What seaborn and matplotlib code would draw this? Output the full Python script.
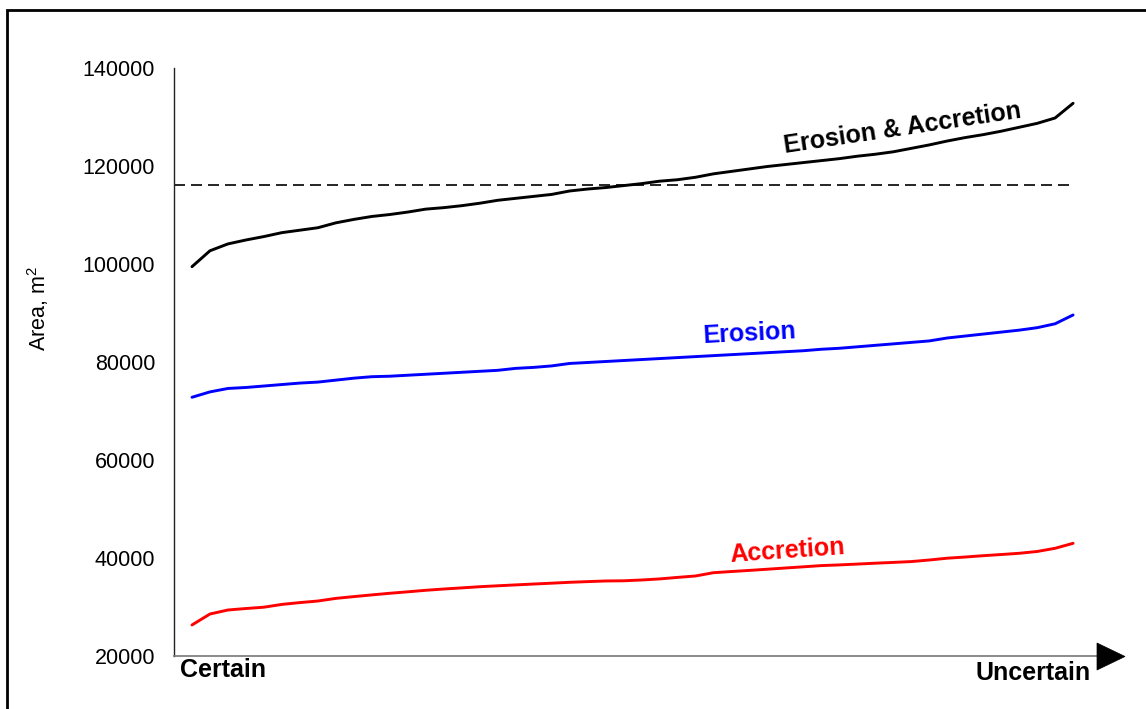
import numpy as np
import pandas as pd
import matplotlib
matplotlib.use("Agg")
import matplotlib.pyplot as plt
from matplotlib.patches import Polygon, Rectangle
import seaborn as sns

# Realisations ranked from most certain to least certain
rank = list(range(50))

erosion_accretion = [
    99450, 102700, 104100, 104900, 105600, 106400, 106900, 107400, 108400, 109100,
    109700, 110100, 110600, 111200, 111500, 111900, 112400, 113000, 113400, 113800,
    114200, 114900, 115300, 115600, 116000, 116400, 116900, 117200, 117700, 118400,
    118900, 119400, 119900, 120300, 120700, 121100, 121500, 122000, 122400, 122900,
    123600, 124300, 125100, 125800, 126400, 127100, 127900, 128700, 129800, 132800,
]
erosion = [
    72800, 73900, 74600, 74800, 75100, 75400, 75700, 75900, 76300, 76700,
    77000, 77100, 77300, 77500, 77700, 77900, 78100, 78300, 78700, 78900,
    79200, 79700, 79900, 80100, 80300, 80500, 80700, 80900, 81100, 81300,
    81500, 81700, 81900, 82100, 82300, 82600, 82800, 83100, 83400, 83700,
    84000, 84300, 84900, 85300, 85700, 86100, 86500, 87000, 87800, 89600,
]
accretion = [
    26330, 28570, 29390, 29690, 29960, 30530, 30900, 31220, 31760, 32120,
    32470, 32800, 33100, 33410, 33670, 33900, 34140, 34330, 34510, 34690,
    34860, 35040, 35180, 35310, 35350, 35510, 35730, 36040, 36330, 37000,
    37240, 37470, 37710, 37960, 38200, 38450, 38590, 38760, 38940, 39100,
    39270, 39590, 39960, 40200, 40470, 40710, 40960, 41330, 41980, 43000,
]
reference_area = 116100

series_names = ["Erosion & Accretion", "Erosion", "Accretion"]
series_colors = ["#000000", "#0000FF", "#FF0000"]
y_ticks = [20000, 40000, 60000, 80000, 100000, 120000, 140000]

df = pd.DataFrame({
    "rank": rank * 3,
    "area": erosion_accretion + erosion + accretion,
    "series": np.repeat(series_names, len(rank)),
})

sns.set_style("white")
plt.rcParams["font.family"] = ["Liberation Sans", "DejaVu Sans"]
plt.rcParams["mathtext.fontset"] = "custom"
plt.rcParams["mathtext.rm"] = "Liberation Sans"
plt.rcParams["mathtext.it"] = "Liberation Sans:italic"
plt.rcParams["text.color"] = "black"
plt.rcParams["axes.labelcolor"] = "black"

W, H = 1146, 709
fig = plt.figure(figsize=(W / 100, H / 100), dpi=100)
ax = fig.add_axes([174 / W, 1 - 656 / H, (1097 - 174) / W, (656 - 68) / H])

sns.lineplot(data=df, x="rank", y="area", hue="series", hue_order=series_names,
             palette=series_colors, linewidth=2.1, legend=False, ax=ax)

x_left, x_right = -1.0, 50.33
ax.plot([x_left, rank[-1]], [reference_area, reference_area], color="black",
        lw=1.2, ls=(0, (6.6, 3.6)))

ax.set_xlim(x_left, x_right)
ax.set_ylim(20000, 140000)
ax.set_yticks(y_ticks)
ax.set_yticklabels([str(t) for t in y_ticks])
ax.set_xticks([])
ax.tick_params(axis="y", length=0, pad=13.5, labelsize=15.5, labelcolor="black")
ax.set_xlabel("")
ax.set_ylabel("")

for side in ["top", "right"]:
    ax.spines[side].set_visible(False)
ax.spines["left"].set_color("#222222")
ax.spines["left"].set_linewidth(1.0)
ax.spines["bottom"].set_color("#777777")
ax.spines["bottom"].set_linewidth(1.2)

# Arrowhead at the end of the horizontal axis
fig.add_artist(Polygon([(1097 / W, 1 - 643 / H), (1097 / W, 1 - 670 / H),
                        (1125 / W, 1 - 656.5 / H)], closed=True,
                       transform=fig.transFigure, fc="black", ec="black", lw=0.5))

# Curve labels
label_kw = dict(fontsize=18, fontweight="bold", ha="center", va="center",
                rotation_mode="anchor")
ax.text(39.5, 127750, "Erosion & Accretion", color=series_colors[0], rotation=8.5, **label_kw)
ax.text(31.0, 85900, "Erosion", color=series_colors[1], rotation=3, **label_kw)
ax.text(33.1, 41330, "Accretion", color=series_colors[2], rotation=4, **label_kw)

# Axis end labels
ax.text(0.0065, -0.0357, "Certain", transform=ax.transAxes, fontsize=18,
        fontweight="bold", ha="left", va="baseline", color="black")
ax.text(0.9935, -0.0408, "Uncertain", transform=ax.transAxes, fontsize=18,
        fontweight="bold", ha="right", va="baseline", color="black")

fig.text(38 / W, 1 - 308 / H, "Area, m$^2$", rotation=90, ha="center", va="center",
         fontsize=15.5, color="black")

# Outer frame
fig.add_artist(Rectangle((7 / W, -0.1), 1.2, 1.1 - 10 / H, transform=fig.transFigure,
                         fill=False, ec="black", lw=2.0))

fig.savefig("out.png", dpi=100)
